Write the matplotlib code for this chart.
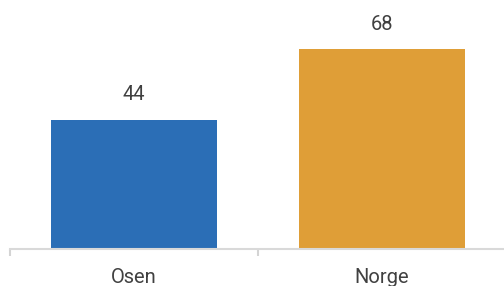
import matplotlib.pyplot as plt

categories = ['Osen', 'Norge']
values = [44, 68]
bar_colors = ['#2B6EB6', '#DF9E37']

plt.rcParams['font.family'] = ['Roboto', 'DejaVu Sans']

fig = plt.figure(figsize=(5.04, 2.86), dpi=100)
# axes spans a bit past the right edge, like the reference crop
ax = fig.add_axes([10 / 504, 37 / 286, 496 / 504, 249 / 286])

x = range(len(categories))
bars = ax.bar(x, values, width=0.667, color=bar_colors)

for b, v in zip(bars, values):
    ax.annotate(str(v), (b.get_x() + b.get_width() / 2, v),
                xytext=(0, 11), textcoords='offset points',
                ha='center', va='bottom', fontsize=14.5, color='#404040')

ax.set_xlim(-0.5, 1.5)
ax.set_ylim(0, 84.7)

ax.set_xticks(list(x))
ax.set_xticklabels(categories, fontsize=14.5, color='#404040')
ax.tick_params(axis='x', which='major', length=0, pad=13.5)
ax.set_xticks([-0.5, 0.5, 1.5], minor=True)
ax.tick_params(axis='x', which='minor', length=5, width=1.5, color='#d4d4d4')

ax.set_yticks([])
for s in ['top', 'right', 'left']:
    ax.spines[s].set_visible(False)
ax.spines['bottom'].set_color('#d9d9d9')
ax.spines['bottom'].set_linewidth(1.5)

fig.savefig('out.png', dpi=100)
